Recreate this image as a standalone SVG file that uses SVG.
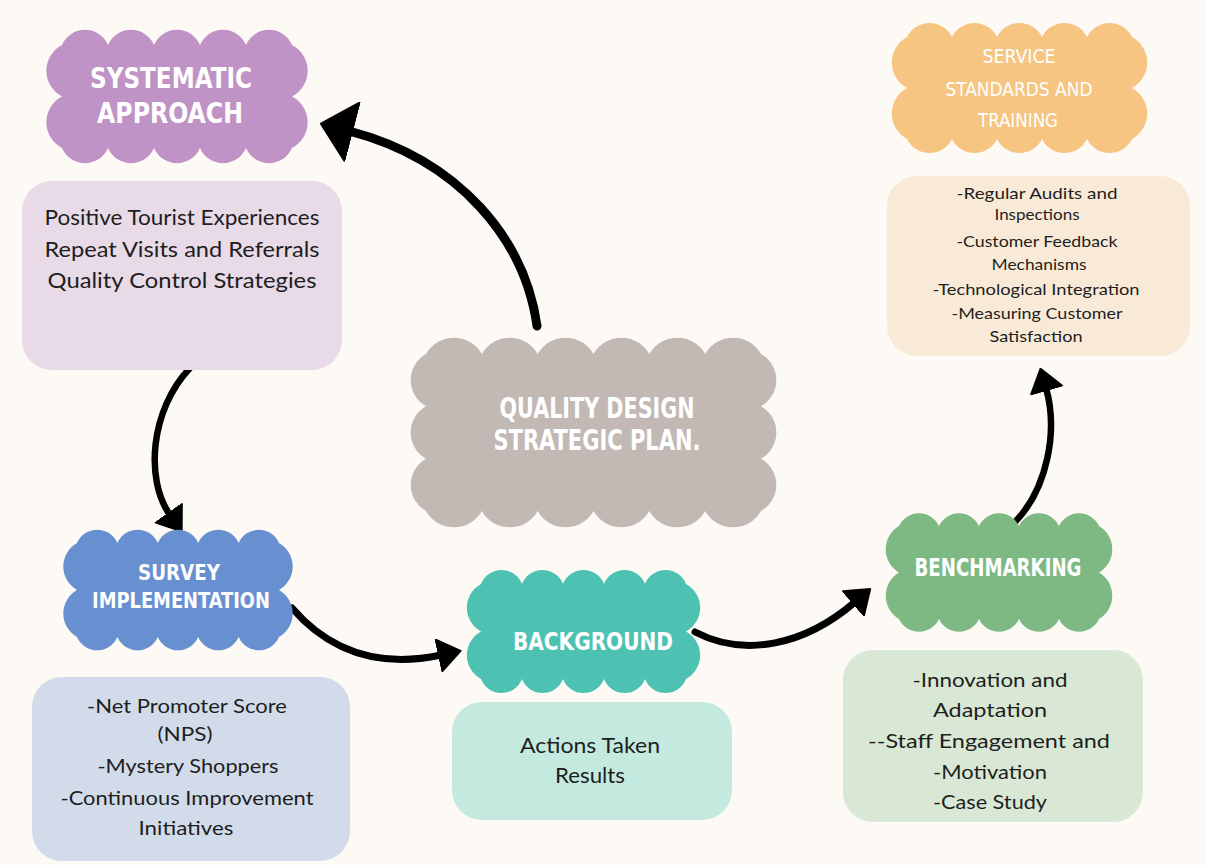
<svg xmlns="http://www.w3.org/2000/svg" width="1206" height="865" viewBox="0 0 1206 865">
<style>
.h{font-family:"DejaVu Sans Condensed","DejaVu Sans",sans-serif;font-weight:bold;fill:#ffffff;text-anchor:middle}
.hr{font-family:"DejaVu Sans Condensed","DejaVu Sans",sans-serif;font-weight:normal;fill:#ffffff;text-anchor:middle}
.b{font-family:Lato,"Liberation Sans",sans-serif;fill:#1e1e1e;text-anchor:middle}
.conn{fill:none;stroke:#000;stroke-linecap:round}
</style>
<defs>
<marker id="bigHead" viewBox="0 0 34 62" refX="4" refY="31" markerWidth="34" markerHeight="62" markerUnits="userSpaceOnUse" orient="auto">
<path d="M1,1 L33,31 L1,61 Z" fill="#000" stroke="#000" stroke-width="2" stroke-linejoin="round"/>
</marker>
<marker id="head" viewBox="0 0 24 34" refX="3" refY="17" markerWidth="24" markerHeight="34" markerUnits="userSpaceOnUse" orient="auto">
<path d="M1,1 L23,17 L1,33 Z" fill="#000" stroke="#000" stroke-width="2" stroke-linejoin="round"/>
</marker>
</defs>
<rect x="0" y="0" width="1206" height="865" fill="#FDF9F4"/>

<g id="connectors">
<path class="conn" d="M537,326 C525,240 460,160 349,131" stroke-width="9" marker-end="url(#bigHead)"/>
<path class="conn" d="M190,368 C150,410 145,480 170,515" stroke-width="6.5" marker-end="url(#head)"/>
<path class="conn" d="M292,608 C330,652 380,668 441,655" stroke-width="7" marker-end="url(#head)"/>
<path class="conn" d="M695,632 C745,658 805,645 855,602" stroke-width="7" marker-end="url(#head)"/>
<path class="conn" d="M1015,522 C1048,488 1058,430 1046,388" stroke-width="6.5" marker-end="url(#head)"/>
</g>

<g id="systematic-approach">
<path fill="#C093C6" d="M62,45 A25,25 0 0 1 108,45 A25,25 0 0 1 154,45 A25,25 0 0 1 200,45 A25,25 0 0 1 246,45 A25,25 0 0 1 292,45 A29,29 0 0 1 292,96.5 A29,29 0 0 1 292,148 A25,25 0 0 1 246,148 A25,25 0 0 1 200,148 A25,25 0 0 1 154,148 A25,25 0 0 1 108,148 A25,25 0 0 1 62,148 A29,29 0 0 1 62,96.5 A29,29 0 0 1 62,45 Z"/>
<text class="h" x="171" y="88" font-size="29" textLength="162" lengthAdjust="spacingAndGlyphs">SYSTEMATIC</text>
<text class="h" x="170" y="123" font-size="29" textLength="146" lengthAdjust="spacingAndGlyphs">APPROACH</text>
</g>
<g id="systematic-details">
<rect x="22" y="181" width="320" height="189" rx="30" fill="#E8DAE7"/>
<text class="b" x="182" y="225" font-size="22" textLength="275" lengthAdjust="spacingAndGlyphs">Positive Tourist Experiences</text>
<text class="b" x="182" y="257" font-size="22" textLength="275" lengthAdjust="spacingAndGlyphs">Repeat Visits and Referrals</text>
<text class="b" x="182" y="288" font-size="22" textLength="269" lengthAdjust="spacingAndGlyphs">Quality Control Strategies</text>
</g>

<g id="service-standards">
<path fill="#F6C582" d="M907,37 A25,25 0 0 1 952,37 A25,25 0 0 1 997,37 A25,25 0 0 1 1042,37 A25,25 0 0 1 1087,37 A25,25 0 0 1 1132,37 A29,29 0 0 1 1132,88 A29,29 0 0 1 1132,139 A25,25 0 0 1 1087,139 A25,25 0 0 1 1042,139 A25,25 0 0 1 997,139 A25,25 0 0 1 952,139 A25,25 0 0 1 907,139 A29,29 0 0 1 907,88 A29,29 0 0 1 907,37 Z"/>
<text class="hr" x="1019" y="63" font-size="20" textLength="73" lengthAdjust="spacingAndGlyphs">SERVICE</text>
<text class="hr" x="1019" y="96" font-size="20" textLength="147" lengthAdjust="spacingAndGlyphs">STANDARDS AND</text>
<text class="hr" x="1018" y="127" font-size="20" textLength="80" lengthAdjust="spacingAndGlyphs">TRAINING</text>
</g>
<g id="service-details">
<rect x="887" y="176" width="303" height="180" rx="30" fill="#F9EAD7"/>
<text class="b" x="1037" y="199" font-size="16" textLength="161" lengthAdjust="spacingAndGlyphs">-Regular Audits and</text>
<text class="b" x="1037" y="220" font-size="16" textLength="85" lengthAdjust="spacingAndGlyphs">Inspections</text>
<text class="b" x="1037" y="247" font-size="16" textLength="161" lengthAdjust="spacingAndGlyphs">-Customer Feedback</text>
<text class="b" x="1039" y="270" font-size="16" textLength="95" lengthAdjust="spacingAndGlyphs">Mechanisms</text>
<text class="b" x="1036" y="295" font-size="16" textLength="207" lengthAdjust="spacingAndGlyphs">-Technological Integration</text>
<text class="b" x="1037" y="319" font-size="16" textLength="171" lengthAdjust="spacingAndGlyphs">-Measuring Customer</text>
<text class="b" x="1036" y="342" font-size="16" textLength="93" lengthAdjust="spacingAndGlyphs">Satisfaction</text>
</g>

<g id="quality-design">
<path fill="#C2B9B4" d="M426,354 A32,32 0 0 1 481.83,354 A32,32 0 0 1 537.67,354 A32,32 0 0 1 593.5,354 A32,32 0 0 1 649.33,354 A32,32 0 0 1 705.17,354 A32,32 0 0 1 761,354 A30,30 0 0 1 761,406.33 A30,30 0 0 1 761,458.67 A30,30 0 0 1 761,511 A32,32 0 0 1 705.17,511 A32,32 0 0 1 649.33,511 A32,32 0 0 1 593.5,511 A32,32 0 0 1 537.67,511 A32,32 0 0 1 481.83,511 A32,32 0 0 1 426,511 A30,30 0 0 1 426,458.67 A30,30 0 0 1 426,406.33 A30,30 0 0 1 426,354 Z"/>
<text class="h" x="597" y="418" font-size="29" textLength="195" lengthAdjust="spacingAndGlyphs">QUALITY DESIGN</text>
<text class="h" x="597" y="450" font-size="29" textLength="207" lengthAdjust="spacingAndGlyphs">STRATEGIC PLAN.</text>
</g>

<g id="survey-implementation">
<path fill="#6890D0" d="M77,543 A22,22 0 0 1 117.4,543 A22,22 0 0 1 157.8,543 A22,22 0 0 1 198.2,543 A22,22 0 0 1 238.6,543 A22,22 0 0 1 279,543 A27,27 0 0 1 279,590 A27,27 0 0 1 279,637 A22,22 0 0 1 238.6,637 A22,22 0 0 1 198.2,637 A22,22 0 0 1 157.8,637 A22,22 0 0 1 117.4,637 A22,22 0 0 1 77,637 A27,27 0 0 1 77,590 A27,27 0 0 1 77,543 Z"/>
<text class="h" x="179" y="580" font-size="21" textLength="82" lengthAdjust="spacingAndGlyphs">SURVEY</text>
<text class="h" x="181" y="608" font-size="21" textLength="178" lengthAdjust="spacingAndGlyphs">IMPLEMENTATION</text>
</g>
<g id="survey-details">
<rect x="32" y="677" width="318" height="184" rx="30" fill="#D1DBEA"/>
<text class="b" x="187" y="713" font-size="19" textLength="200" lengthAdjust="spacingAndGlyphs">-Net Promoter Score</text>
<text class="b" x="185" y="741" font-size="19" textLength="55" lengthAdjust="spacingAndGlyphs">(NPS)</text>
<text class="b" x="188" y="773" font-size="19" textLength="181" lengthAdjust="spacingAndGlyphs">-Mystery Shoppers</text>
<text class="b" x="187" y="805" font-size="19" textLength="253" lengthAdjust="spacingAndGlyphs">-Continuous Improvement</text>
<text class="b" x="186" y="835" font-size="19" textLength="95" lengthAdjust="spacingAndGlyphs">Initiatives</text>
</g>

<g id="background">
<path fill="#4DC2B3" d="M481,584 A22,22 0 0 1 522,584 A22,22 0 0 1 563,584 A22,22 0 0 1 604,584 A22,22 0 0 1 645,584 A22,22 0 0 1 686,584 A27,27 0 0 1 686,631.5 A27,27 0 0 1 686,679 A22,22 0 0 1 645,679 A22,22 0 0 1 604,679 A22,22 0 0 1 563,679 A22,22 0 0 1 522,679 A22,22 0 0 1 481,679 A27,27 0 0 1 481,631.5 A27,27 0 0 1 481,584 Z"/>
<text class="h" x="593" y="650" font-size="25" textLength="160" lengthAdjust="spacingAndGlyphs">BACKGROUND</text>
</g>
<g id="background-details">
<rect x="452" y="702" width="280" height="118" rx="30" fill="#C4EAE0"/>
<text class="b" x="590" y="753" font-size="21" textLength="140" lengthAdjust="spacingAndGlyphs">Actions Taken</text>
<text class="b" x="590" y="783" font-size="21" textLength="70" lengthAdjust="spacingAndGlyphs">Results</text>
</g>

<g id="benchmarking">
<path fill="#7EB983" d="M899,526 A22,22 0 0 1 939,526 A22,22 0 0 1 979,526 A22,22 0 0 1 1019,526 A22,22 0 0 1 1059,526 A22,22 0 0 1 1099,526 A27,27 0 0 1 1099,572.5 A27,27 0 0 1 1099,619 A22,22 0 0 1 1059,619 A22,22 0 0 1 1019,619 A22,22 0 0 1 979,619 A22,22 0 0 1 939,619 A22,22 0 0 1 899,619 A27,27 0 0 1 899,572.5 A27,27 0 0 1 899,526 Z"/>
<text class="h" x="998" y="576" font-size="25" textLength="167" lengthAdjust="spacingAndGlyphs">BENCHMARKING</text>
</g>
<g id="benchmarking-details">
<rect x="843" y="650" width="300" height="172" rx="30" fill="#D9E8D5"/>
<text class="b" x="990" y="687" font-size="20" textLength="155" lengthAdjust="spacingAndGlyphs">-Innovation and</text>
<text class="b" x="990" y="717" font-size="20" textLength="114" lengthAdjust="spacingAndGlyphs">Adaptation</text>
<text class="b" x="989" y="748" font-size="20" textLength="242" lengthAdjust="spacingAndGlyphs">--Staff Engagement and</text>
<text class="b" x="990" y="779" font-size="20" textLength="114" lengthAdjust="spacingAndGlyphs">-Motivation</text>
<text class="b" x="990" y="809" font-size="20" textLength="114" lengthAdjust="spacingAndGlyphs">-Case Study</text>
</g>
</svg>
